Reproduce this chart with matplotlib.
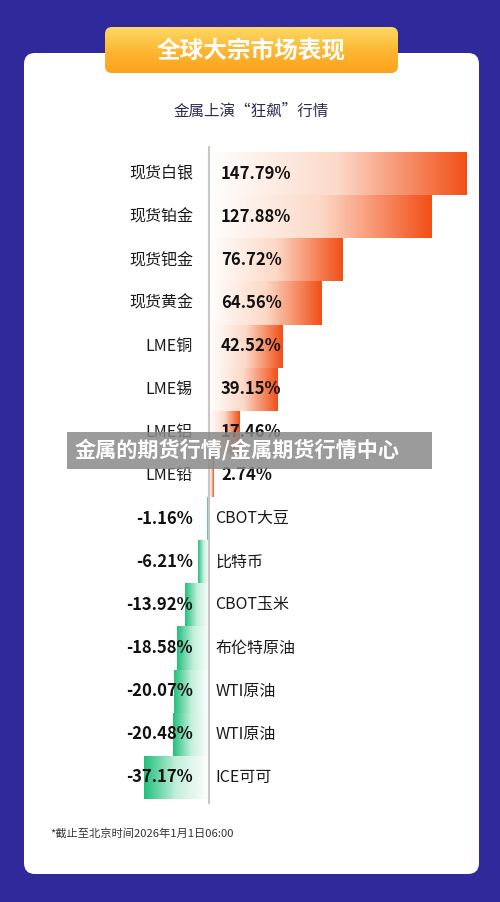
import matplotlib.pyplot as plt
import numpy as np
from matplotlib.patches import FancyBboxPatch, Rectangle
from matplotlib.colors import LinearSegmentedColormap

plt.rcParams['font.family'] = ['Noto Sans CJK SC', 'DejaVu Sans']

names = ['现货白银', '现货铂金', '现货钯金', '现货黄金', 'LME铜', 'LME锡', 'LME铝', 'LME铅',
         'CBOT大豆', '比特币', 'CBOT玉米', '布伦特原油', 'WTI原油', 'WTI原油', 'ICE可可']
values = [147.79, 127.88, 76.72, 64.56, 42.52, 39.15, 17.46, 2.74,
          -1.16, -6.21, -13.92, -18.58, -20.07, -20.48, -37.17]

title = '全球大宗市场表现'
subtitle = '金属上演“狂飙”行情'
note = '*截止至北京时间2026年1月1日06:00'
banner = '金属的期货行情/金属期货行情中心'

bg_col = '#2f299c'
orange = '#f24f17'
green = '#22c07c'

W, H = 500, 902
fig = plt.figure(figsize=(W / 100, H / 100), dpi=100)
fig.patch.set_facecolor(bg_col)

# background / decoration axes in pixel units
bg = fig.add_axes([0, 0, 1, 1])
bg.set_xlim(0, W)
bg.set_ylim(H, 0)
bg.axis('off')

card = FancyBboxPatch((24, 53), 455, 821, boxstyle='round,pad=0,rounding_size=11',
                      fc='white', ec='none', zorder=1)
bg.add_patch(card)

pill = FancyBboxPatch((105, 27), 293, 46, boxstyle='round,pad=0,rounding_size=7',
                      fc='none', ec='none', zorder=2)
bg.add_patch(pill)
pill_cmap = LinearSegmentedColormap.from_list('pill', ['#fcd964', '#fdb834', '#fca21c'])
im = bg.imshow(np.linspace(0, 1, 64)[:, None], cmap=pill_cmap, aspect='auto',
               extent=(105, 398, 73, 27), origin='upper', zorder=3)
im.set_clip_path(pill)
bg.text(251, 51, title, ha='center', va='center', color='white', fontsize=17,
        fontweight='bold', zorder=4)
bg.text(251, 111, subtitle, ha='center', va='center', color='#2b2b55', fontsize=11.2, zorder=4)
bg.text(50, 833, note, ha='left', va='center', color='#333333', fontsize=8.1, zorder=4)
bg.set_xlim(0, W)
bg.set_ylim(H, 0)

# main chart
ax = fig.add_axes([0.2, 0.102, 0.74, 0.7428])
ax.axis('off')
ypos = np.arange(len(values))
bars = ax.barh(ypos, values, height=1.0, color='none', edgecolor='none')

pos_cmap = LinearSegmentedColormap.from_list('pos', ['#ffffff', '#fcd9c8', orange])
neg_cmap = LinearSegmentedColormap.from_list('neg', ['#ffffff', '#c4efdc', green])
grad = np.linspace(0, 1, 256)[None, :]
for b, v in zip(bars, values):
    x0 = min(b.get_x(), b.get_x() + b.get_width())
    x1 = max(b.get_x(), b.get_x() + b.get_width())
    y0 = b.get_y()
    y1 = y0 + b.get_height()
    if v >= 0:
        g = ax.imshow(grad, cmap=pos_cmap, aspect='auto', extent=(x0, x1, y1, y0), zorder=1)
    else:
        g = ax.imshow(grad[:, ::-1], cmap=neg_cmap, aspect='auto', extent=(x0, x1, y1, y0), zorder=1)
    g.set_clip_path(b)

for y, n, v in zip(ypos, names, values):
    if v >= 0:
        ax.text(-9.2, y, n, ha='right', va='center', fontsize=11.5, color='#1a1a1a')
        ax.text(6.9, y, f'{v:.2f}%', ha='left', va='center', fontsize=12,
                fontweight='bold', color='#111111', zorder=3)
    else:
        ax.text(-9.2, y, f'{v:.2f}%', ha='right', va='center', fontsize=12,
                fontweight='bold', color='#111111', zorder=3)
        ax.text(3.5, y, n, ha='left', va='center', fontsize=11.5, color='#1a1a1a', zorder=3)

ax.axvline(0, ymin=0.0104, ymax=0.9896, color='#c8c8c8', lw=1.5, zorder=2)
ax.set_xlim(-62.7, 150.0)
ax.set_ylim(14.755, -0.778)

# overlay caption band
fig.patches.append(Rectangle((67 / W, 1 - 469 / H), 365 / W, 37 / H,
                             transform=fig.transFigure, fc='#8a8a8a', alpha=0.85,
                             ec='none', zorder=5))
fig.text(75 / W, 1 - 450 / H, banner, ha='left', va='center', color='white',
         fontsize=15.2, fontweight='bold', zorder=6)

fig.savefig('out.png', dpi=100, facecolor=fig.get_facecolor())
